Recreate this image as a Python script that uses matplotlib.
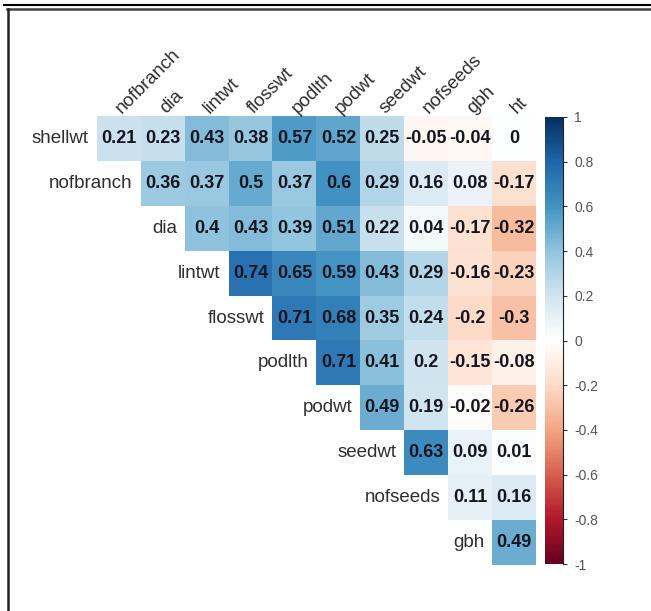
import numpy as np
import matplotlib
matplotlib.use("Agg")
import matplotlib.pyplot as plt
from matplotlib.lines import Line2D
import matplotlib.colors as mcolors
import matplotlib.cm as cm

row_labels = ["shellwt", "nofbranch", "dia", "lintwt", "flosswt", "podlth",
              "podwt", "seedwt", "nofseeds", "gbh"]
col_labels = ["nofbranch", "dia", "lintwt", "flosswt", "podlth", "podwt",
              "seedwt", "nofseeds", "gbh", "ht"]

r_shellwt = [0.21, 0.23, 0.43, 0.38, 0.57, 0.52, 0.25, -0.05, -0.04, 0]
r_nofbranch = [0.36, 0.37, 0.5, 0.37, 0.6, 0.29, 0.16, 0.08, -0.17]
r_dia = [0.4, 0.43, 0.39, 0.51, 0.22, 0.04, -0.17, -0.32]
r_lintwt = [0.74, 0.65, 0.59, 0.43, 0.29, -0.16, -0.23]
r_flosswt = [0.71, 0.68, 0.35, 0.24, -0.2, -0.3]
r_podlth = [0.71, 0.41, 0.2, -0.15, -0.08]
r_podwt = [0.49, 0.19, -0.02, -0.26]
r_seedwt = [0.63, 0.09, 0.01]
r_nofseeds = [0.11, 0.16]
r_gbh = [0.49]

rows = [r_shellwt, r_nofbranch, r_dia, r_lintwt, r_flosswt, r_podlth,
        r_podwt, r_seedwt, r_nofseeds, r_gbh]
cbar_ticks = [1, 0.8, 0.6, 0.4, 0.2, 0, -0.2, -0.4, -0.6, -0.8, -1]

palette = ["#67001F", "#B2182B", "#D6604D", "#F4A582", "#FDDBC7", "#FFFFFF",
           "#D1E5F0", "#92C5DE", "#4393C3", "#2166AC", "#053061"]

n = len(col_labels)
M = np.full((n, n), np.nan)
for i, vals in enumerate(rows):
    for k, v in enumerate(vals):
        M[i, i + k] = v

W, H = 651, 611
fig = plt.figure(figsize=(W / 100, H / 100), dpi=100)
fig.patch.set_facecolor("white")

def fx(px):
    return px / W

def fy(py):
    return 1 - py / H

gx0, gx1, gy0, gy1 = 97, 536, 116, 565
ax = fig.add_axes([fx(gx0), fy(gy1), fx(gx1 - gx0), (gy1 - gy0) / H])
cmap = mcolors.LinearSegmentedColormap.from_list("corr_rdbu", palette, N=200)
norm = mcolors.Normalize(vmin=-1, vmax=1)
ax.imshow(np.ma.masked_invalid(M), cmap=cmap, norm=norm, aspect="auto",
          extent=(-0.5, n - 0.5, n - 0.5, -0.5), interpolation="nearest")
ax.set_xlim(-0.5, n - 0.5)
ax.set_ylim(n - 0.5, -0.5)
ax.axis("off")

font = "Liberation Sans"
for i in range(n):
    for j in range(n):
        v = M[i, j]
        if not np.isnan(v):
            s = f"{v:g}"
            ax.text(j, i, s, ha="center", va="center", fontsize=13,
                    fontweight="bold", family=font, color="#15151f")

# row labels
for i, lab in enumerate(row_labels):
    ax.annotate(lab, xy=(i - 0.5, i), xycoords="data", xytext=(-8, 0),
                textcoords="offset pixels", ha="right", va="center",
                fontsize=13.5, family=font, color="#2e2e2e")

# column labels
for j, lab in enumerate(col_labels):
    ax.annotate(lab, xy=(j, -0.5), xycoords="data", xytext=(3, 2),
                textcoords="offset pixels", ha="left", va="baseline",
                rotation=45, rotation_mode="anchor",
                fontsize=13.5, family=font, color="#2e2e2e")

# colorbar
cx0, cx1, cy0, cy1 = 545, 563, 117, 564
cax = fig.add_axes([fx(cx0), fy(cy1), fx(cx1 - cx0), (cy1 - cy0) / H])
sm = cm.ScalarMappable(norm=norm, cmap=cmap)
cb = fig.colorbar(sm, cax=cax, ticks=cbar_ticks)
cb.outline.set_visible(False)
cax.yaxis.set_ticks_position("right")
cax.tick_params(axis="y", length=3, width=0.8, color="#333333", pad=5,
                labelsize=10, labelcolor="#555555")
cax.set_yticklabels([f"{t:g}" for t in cbar_ticks], family=font)
cax.plot([1, 1], [0, 1], transform=cax.transAxes, color="#222222",
         lw=0.8, clip_on=False)

# frame lines
fig.add_artist(Line2D([fx(4), 1], [fy(4.5), fy(4.5)], color="black", lw=1.5))
fig.add_artist(Line2D([fx(7), 1], [fy(8.5), fy(8.5)], color="#444444", lw=1.8))
fig.add_artist(Line2D([fx(7.5), fx(7.5)], [fy(8.5), 0], color="#222222", lw=1.8))

fig.savefig("out.png", dpi=100, facecolor="white")
